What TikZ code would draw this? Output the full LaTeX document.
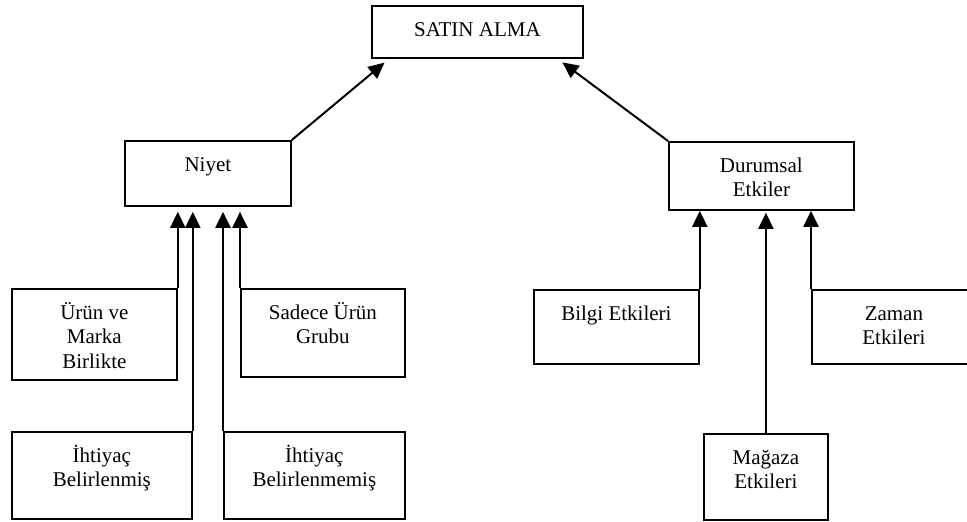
\documentclass[tikz,border=0pt]{standalone}
\usepackage{fontspec}
\setmainfont{Liberation Serif}
\usepackage{tikz}
\usetikzlibrary{arrows.meta,calc}

\newcommand{\cell}[3]{\parbox[t][#2][t]{#1}{\centering\rule{0pt}{30.5pt}#3}}

\begin{document}
\begin{tikzpicture}[x=1pt,y=-1pt,
  font=\fontsize{21}{24.5}\selectfont,
  box/.style={draw,line width=1.8pt,inner sep=0pt,anchor=north west},
  arr/.style={line width=2pt,-{Triangle[length=16pt,width=15pt]}}]
\clip (0,0) rectangle (967,522);
% top level
\node[box] (satin) at (371,5) {\cell{211pt}{52pt}{SATIN ALMA}};
\node[box] (niyet) at (124,140) {\cell{166pt}{65pt}{Niyet}};
\node[box] (durumsal) at (668,141) {\cell{185pt}{68pt}{Durumsal\\Etkiler}};
% left branch
\node[box] (urun) at (11,288) {\cell{165pt}{91pt}{Ürün ve\\Marka\\Birlikte}};
\node[box] (sadece) at (240,288) {\cell{164pt}{88pt}{Sadece Ürün\\Grubu}};
\node[box] (belirli) at (11,431) {\cell{180pt}{87pt}{İhtiyaç\\Belirlenmiş}};
\node[box] (belirsiz) at (223,431) {\cell{181pt}{87pt}{İhtiyaç\\Belirlenmemiş}};
% right branch
\node[box] (bilgi) at (533,289) {\cell{165pt}{74pt}{Bilgi Etkileri}};
\node[box] (zaman) at (811,289) {\cell{164pt}{74pt}{Zaman\\Etkileri}};
\node[box] (magaza) at (703,433) {\cell{124pt}{86pt}{Mağaza\\Etkileri}};
% arrows
\draw[arr,shorten >=6pt] (niyet.north east) -- ($(satin.south west)!0.085!(satin.south east)$);
\draw[arr,shorten >=6pt] (durumsal.north west) -- ($(satin.south west)!0.877!(satin.south east)$);
\draw[arr,shorten >=5pt] (urun.north east) -- (urun.north east |- niyet.south);
\draw[arr,shorten >=5pt] (belirli.north east) -- (belirli.north east |- niyet.south);
\draw[arr,shorten >=5pt] (belirsiz.north west) -- (belirsiz.north west |- niyet.south);
\draw[arr,shorten >=5pt] (sadece.north west) -- (sadece.north west |- niyet.south);
\draw[arr] (bilgi.north east) -- (bilgi.north east |- durumsal.south);
\draw[arr,shorten >=2pt] (magaza.north) -- (magaza.north |- durumsal.south);
\draw[arr] (zaman.north west) -- (zaman.north west |- durumsal.south);
\end{tikzpicture}
\end{document}
